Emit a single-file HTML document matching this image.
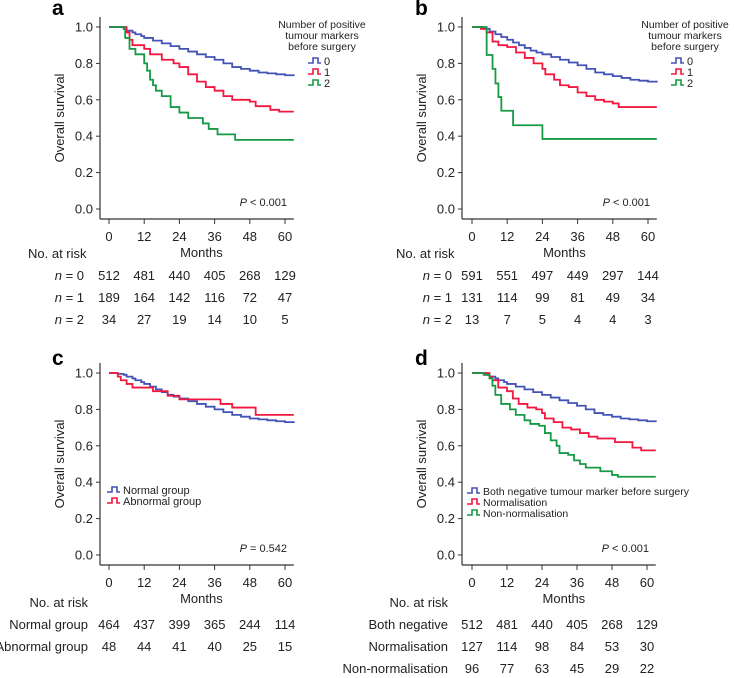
<!DOCTYPE html>
<html><head><meta charset="utf-8"><style>
body{margin:0;background:#fff}
svg{display:block;font-family:"Liberation Sans",sans-serif}
</style></head><body>
<svg id="fig" width="734" height="678" viewBox="0 0 734 678"></svg>
<script>
const ticksX=[0,12,24,36,48,60];
const ticksY=[0,0.2,0.4,0.6,0.8,1.0];
// panel a
const aBlueT=[0,3,5,6,8,9,11,12,15,18,21,24,27,30,33,36,39,42,45,48,51,54,57,60,63];
const aBlueS=[1,1,0.99,0.98,0.97,0.96,0.95,0.94,0.925,0.91,0.895,0.88,0.865,0.85,0.835,0.82,0.8,0.78,0.77,0.76,0.75,0.745,0.74,0.735,0.73];
const aRedT=[0,5,6,7,8,12,14,18,22,24,27,30,33,36,39,42,48,50,55,58,63];
const aRedS=[1,1,0.97,0.93,0.9,0.88,0.85,0.82,0.8,0.78,0.74,0.7,0.67,0.65,0.62,0.6,0.59,0.565,0.545,0.535,0.535];
const aGreenT=[0,5,5.5,7,9,12,13,14,15,16,18,21,24,27,32,34,37,43,63];
const aGreenS=[1,1,0.94,0.88,0.85,0.8,0.76,0.71,0.68,0.65,0.62,0.56,0.53,0.5,0.47,0.44,0.41,0.38,0.38];
const aRisk=[[512,481,440,405,268,129],[189,164,142,116,72,47],[34,27,19,14,10,5]];
// panel b
const bBlueT=[0,4,6,8,10,12,14,16,18,20,22,24,27,30,33,36,39,42,45,48,51,54,57,60,63];
const bBlueS=[1,0.99,0.975,0.96,0.945,0.93,0.915,0.9,0.885,0.87,0.86,0.85,0.835,0.82,0.805,0.79,0.77,0.75,0.74,0.73,0.72,0.71,0.705,0.7,0.695];
const bRedT=[0,3,5,7,9,12,15,18,21,24,25,28,30,33,36,39,42,45,48,50,63];
const bRedS=[1,0.99,0.97,0.92,0.9,0.89,0.86,0.83,0.8,0.77,0.74,0.71,0.68,0.67,0.64,0.62,0.6,0.59,0.58,0.56,0.56];
const bGreenT=[0,5,7,8,9,10,14,24,63];
const bGreenS=[1,0.846,0.77,0.69,0.615,0.54,0.46,0.385,0.385];
const bRisk=[[591,551,497,449,297,144],[131,114,99,81,49,34],[13,7,5,4,4,3]];
// panel c
const cBlueT=[0,3,5,6,8,9,11,12,14,16,18,20,22,24,27,30,33,36,39,42,45,48,51,54,57,60,63];
const cBlueS=[1,0.995,0.99,0.98,0.97,0.96,0.95,0.94,0.925,0.91,0.895,0.88,0.87,0.86,0.845,0.83,0.815,0.8,0.785,0.77,0.76,0.75,0.745,0.74,0.735,0.73,0.725];
const cRedT=[0,3,4,6,8,15,20,24,38,42,50,63];
const cRedS=[1,0.98,0.96,0.94,0.92,0.9,0.875,0.855,0.83,0.81,0.77,0.77];
const cRisk=[[464,437,399,365,244,114],[48,44,41,40,25,15]];
// panel d
const dBlueT=aBlueT, dBlueS=aBlueS;
const dRedT=[0,6,7,9,12,14,16,19,22,24,25,28,31,34,37,40,43,49,55,58,63];
const dRedS=[1,0.98,0.96,0.92,0.9,0.86,0.83,0.81,0.8,0.78,0.75,0.73,0.7,0.69,0.67,0.65,0.64,0.62,0.59,0.575,0.575];
const dGreenT=[0,4,6,7,8,10,13,15,18,20,23,25,27,29,30,33,35,37,39,44,48,50,63];
const dGreenS=[1,0.99,0.97,0.93,0.88,0.83,0.8,0.77,0.74,0.72,0.71,0.67,0.63,0.6,0.56,0.55,0.52,0.5,0.48,0.46,0.44,0.43,0.43];
const dRisk=[[512,481,440,405,268,129],[127,114,98,84,53,30],[96,77,63,45,29,22]];

const BLUE='#4353b5',RED='#f2173f',GREEN='#169a45';
const NS='http://www.w3.org/2000/svg';
const svg=document.getElementById('fig');
function mk(tag,attrs,parent,text){const e=document.createElementNS(NS,tag);for(const k in attrs)e.setAttribute(k,attrs[k]);if(text!==undefined)e.textContent=text;(parent||svg).appendChild(e);return e;}

function panel(p){
  const g=mk('g',{});
  
  
  const sx=t=>p.x0+(p.x60-p.x0)*t/60;
  const sy=s=>p.y0+(p.y1-p.y0)*s;
  const L=mk('text',{x:p.lx,y:p.ly,'font-size':21,'font-weight':'bold'},g,p.id);
  
  const ya=mk('line',{x1:p.ax,y1:p.y1-10,x2:p.ax,y2:p.axy,stroke:'#333','stroke-width':1.2},g);
  
  const xa=mk('line',{x1:p.ax,y1:p.axy,x2:sx(63),y2:p.axy,stroke:'#333','stroke-width':1.2},g);
  
  ticksY.forEach(v=>{
    mk('line',{x1:p.ax-4,y1:sy(v),x2:p.ax,y2:sy(v),stroke:'#333'},g);
    const t=mk('text',{x:p.ax-7,y:sy(v)+4.5,'font-size':13,'text-anchor':'end',fill:'#222'},g,v.toFixed(1));
    
  });
  ticksX.forEach(v=>{
    mk('line',{x1:sx(v),y1:p.axy,x2:sx(v),y2:p.axy+5,stroke:'#333'},g);
    const t=mk('text',{x:sx(v),y:p.axy+22,'font-size':13,'text-anchor':'middle',fill:'#222'},g,String(v));
    
  });
  const xt=mk('text',{x:(sx(0)+sx(63))/2,y:p.axy+38,'font-size':13,'text-anchor':'middle',fill:'#222'},g,'Months');
  
  const yt=mk('text',{x:0,y:0,'font-size':13,'text-anchor':'middle',fill:'#222',transform:`translate(${p.ax-36},${(sy(0)+sy(1))/2}) rotate(-90)`},g,'Overall survival');
  
  p.series.forEach(se=>{
    let d='M'+sx(se.t[0])+','+sy(se.s[0]);
    for(let i=1;i<se.t.length;i++){d+=' H'+sx(se.t[i])+' V'+sy(se.s[i]);}
    const path=mk('path',{d:d,fill:'none',stroke:se.c,'stroke-width':1.8},g);
    
  });
  const pv=mk('text',{x:sx(60)+2,y:sy(0)-3,'font-size':11,'text-anchor':'end',fill:'#222'},g);
  
  mk('tspan',{'font-style':'italic'},pv,'P');
  mk('tspan',{},pv,p.pv);
  if(p.legTitle){p.legTitle.forEach((l,i)=>mk('text',{x:p.legTx,y:p.legTy+i*11,'font-size':10.5,'text-anchor':'middle',fill:'#222'},g,l));}
  p.series.forEach((se,i)=>{
    const yy=p.legY+i*p.legDy;
    const sym=mk('path',{d:`M${p.legX},${yy+2} H${p.legX+5} V${yy-3} H${p.legX+10} V${yy+2} H${p.legX+13}`,fill:'none',stroke:se.c,'stroke-width':1.6},g);
    
    const lt=mk('text',{x:p.legX+16,y:yy+4,'font-size':p.legFs,fill:'#222'},g,se.label);
    
  });
  const nr=mk('text',{x:p.nrX,y:p.nrY,'font-size':13,'text-anchor':p.nrAnchor,fill:'#222'},g,'No. at risk');
  
  p.risk.forEach((row,r)=>{
    const yy=p.nrY+22*(r+1);
    const lab=mk('text',{x:p.rowLabX,y:yy,'font-size':13,'text-anchor':'end',fill:'#222'},g);
    
    if(p.rowItalic){mk('tspan',{'font-style':'italic'},lab,'n');mk('tspan',{},lab,' = '+r);}
    else lab.textContent=p.rowLabels[r];
    row.forEach((v,i)=>{
      const c=mk('text',{x:sx(ticksX[i]),y:yy,'font-size':13,'text-anchor':'middle',fill:'#222'},g,String(v));
      
    });
  });
}
const title=['Number of positive','tumour markers','before surgery'];
panel({id:'a',lx:52,ly:15,x0:109,x60:285,y1:27,y0:209,ax:100,axy:219,pv:' < 0.001',
 series:[{t:aBlueT,s:aBlueS,c:BLUE,name:'n0',label:'0'},{t:aRedT,s:aRedS,c:RED,name:'n1',label:'1'},{t:aGreenT,s:aGreenS,c:GREEN,name:'n2',label:'2'}],
 legTitle:title,legTx:322,legTy:28,legX:308,legY:61,legDy:11,legFs:11,
 risk:aRisk,nrX:28,nrY:258,nrAnchor:'start',rowLabX:84,rowItalic:true});
panel({id:'b',lx:415,ly:15,x0:472,x60:648,y1:27,y0:209,ax:462,axy:219,pv:' < 0.001',
 series:[{t:bBlueT,s:bBlueS,c:BLUE,name:'n0',label:'0'},{t:bRedT,s:bRedS,c:RED,name:'n1',label:'1'},{t:bGreenT,s:bGreenS,c:GREEN,name:'n2',label:'2'}],
 legTitle:title,legTx:685,legTy:28,legX:671,legY:61,legDy:11,legFs:11,
 risk:bRisk,nrX:396,nrY:258,nrAnchor:'start',rowLabX:452,rowItalic:true});
panel({id:'c',lx:52,ly:365,x0:109,x60:285,y1:373,y0:555,ax:100,axy:565,pv:' = 0.542',
 series:[{t:cBlueT,s:cBlueS,c:BLUE,name:'normal',label:'Normal group'},{t:cRedT,s:cRedS,c:RED,name:'abnormal',label:'Abnormal group'}],
 legX:107,legY:490,legDy:11,legFs:11,
 risk:cRisk,nrX:88,nrY:607,nrAnchor:'end',rowLabX:88,rowItalic:false,rowLabels:['Normal group','Abnormal group']});
panel({id:'d',lx:415,ly:365,x0:472,x60:647,y1:373,y0:555,ax:462,axy:565,pv:' < 0.001',
 series:[{t:dBlueT,s:dBlueS,c:BLUE,name:'both-negative',label:'Both negative tumour marker before surgery'},{t:dRedT,s:dRedS,c:RED,name:'normalisation',label:'Normalisation'},{t:dGreenT,s:dGreenS,c:GREEN,name:'non-normalisation',label:'Non-normalisation'}],
 legX:467,legY:491,legDy:11,legFs:10.5,
 risk:dRisk,nrX:448,nrY:607,nrAnchor:'end',rowLabX:448,rowItalic:false,rowLabels:['Both negative','Normalisation','Non-normalisation']});
</script>
</body></html>
